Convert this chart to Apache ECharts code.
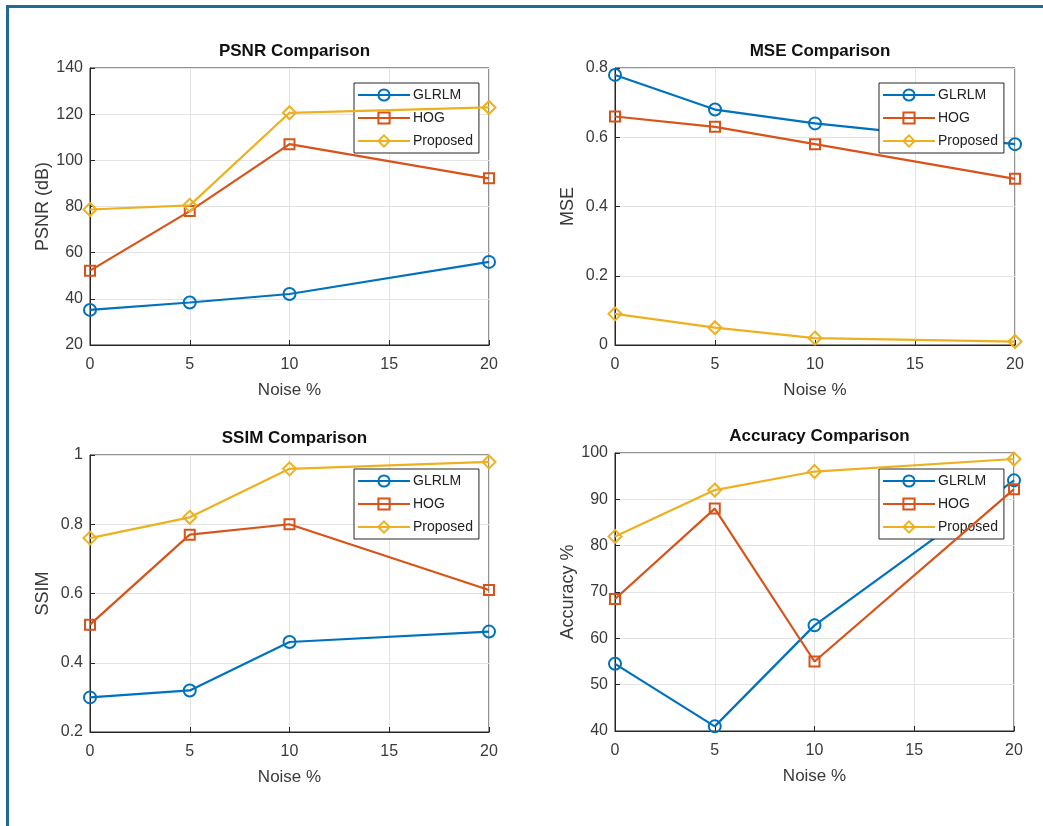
<!DOCTYPE html>
<html>
<head>
<meta charset="utf-8">
<script src="https://cdn.jsdelivr.net/npm/echarts@6/dist/echarts.min.js"></script>
<style>
  html, body { margin: 0; padding: 0; background: #fff; overflow: hidden; }
  #chart { position: absolute; left: 0; top: 0; width: 1043px; height: 826px; }
  #frame { position: absolute; left: 6px; top: 5px; width: 1100px; height: 900px;
           border-left: 3px solid #1f6b96; border-top: 3px solid #1f6b96; pointer-events: none; }
</style>
</head>
<body>
<div id="chart"></div>
<div id="frame"></div>
<script>
var noise = [0, 5, 10, 20];
var seriesNames = ['GLRLM', 'HOG', 'Proposed'];

var psnrGlrlm = [35.2, 38.4, 42.1, 56.0];
var psnrHog = [52.2, 78.0, 107.0, 92.2];
var psnrProposed = [78.7, 80.5, 120.6, 122.9];

var mseGlrlm = [0.78, 0.68, 0.64, 0.58];
var mseHog = [0.66, 0.63, 0.58, 0.48];
var mseProposed = [0.09, 0.05, 0.02, 0.01];

var ssimGlrlm = [0.30, 0.32, 0.46, 0.49];
var ssimHog = [0.51, 0.77, 0.80, 0.61];
var ssimProposed = [0.76, 0.82, 0.96, 0.98];

var accGlrlm = [54.5, 41.0, 62.8, 94.1];
var accHog = [68.5, 88.0, 55.0, 92.2];
var accProposed = [82.0, 92.0, 96.0, 98.7];

var xTicks = [0, 5, 10, 15, 20];
var psnrTicks = [20, 40, 60, 80, 100, 120, 140];
var mseTicks = [0, 0.2, 0.4, 0.6, 0.8];
var ssimTicks = [0.2, 0.4, 0.6, 0.8, 1];
var accTicks = [40, 50, 60, 70, 80, 90, 100];

var titles = ['PSNR Comparison', 'MSE Comparison', 'SSIM Comparison', 'Accuracy Comparison'];
var yNames = ['PSNR (dB)', 'MSE', 'SSIM', 'Accuracy %'];

(function() {
  var font = '"Liberation Sans", Arial, Helvetica, sans-serif';
  var axisInk = '#262626';
  var labelInk = '#3a3a3a';
  var gridInk = '#e3e3e3';
  var colors = ['#0072BD', '#D95319', '#EDB120'];
  var symbols = ['circle', 'rect', 'diamond'];
  var symbolSizes = [12, 10, 13];

  var panels = [
    { data: [psnrGlrlm, psnrHog, psnrProposed], ticks: psnrTicks },
    { data: [mseGlrlm, mseHog, mseProposed], ticks: mseTicks },
    { data: [ssimGlrlm, ssimHog, ssimProposed], ticks: ssimTicks },
    { data: [accGlrlm, accHog, accProposed], ticks: accTicks }
  ];

  // plot boxes, px
  var boxes = [
    { left: 90, top: 68, width: 399, height: 277 },
    { left: 615, top: 68, width: 400, height: 277 },
    { left: 90, top: 455, width: 399, height: 277 },
    { left: 615, top: 453, width: 399, height: 278 }
  ];
  var legendPos = [
    { left: 354, top: 83 },
    { left: 879, top: 83 },
    { left: 354, top: 469 },
    { left: 879, top: 469 }
  ];

  var grid = [], xAxis = [], yAxis = [], series = [], title = [], legend = [];

  panels.forEach(function(p, k) {
    var b = boxes[k];
    grid.push({
      left: b.left, top: b.top, width: b.width, height: b.height,
      show: true, borderColor: axisInk, borderWidth: 1, backgroundColor: '#fff'
    });
    title.push({
      text: titles[k],
      left: b.left + b.width / 2,
      top: b.top - 30,
      textAlign: 'center',
      textStyle: { fontFamily: font, fontSize: 17, fontWeight: 'bold', color: '#111' }
    });
    xAxis.push({
      type: 'value', gridIndex: k,
      min: xTicks[0], max: xTicks[xTicks.length - 1], interval: xTicks[1] - xTicks[0],
      name: 'Noise %', nameLocation: 'middle', nameGap: 37,
      nameTextStyle: { fontFamily: font, fontSize: 17, color: labelInk },
      axisLine: { show: true, lineStyle: { color: axisInk, width: 1 } },
      axisTick: { show: true, inside: true, length: 5, lineStyle: { color: axisInk } },
      axisLabel: { fontFamily: font, fontSize: 16, color: labelInk, margin: 12 },
      splitLine: { show: true, lineStyle: { color: gridInk, width: 1 } }
    });
    var t = p.ticks;
    yAxis.push({
      type: 'value', gridIndex: k,
      min: t[0], max: t[t.length - 1], interval: +(t[1] - t[0]).toFixed(6),
      name: yNames[k], nameLocation: 'middle', nameGap: 38, nameRotate: 90,
      nameTextStyle: { fontFamily: font, fontSize: 18, color: labelInk },
      axisLine: { show: true, lineStyle: { color: axisInk, width: 1 } },
      axisTick: { show: true, inside: true, length: 5, lineStyle: { color: axisInk } },
      axisLabel: {
        fontFamily: font, fontSize: 16, color: labelInk, margin: 7,
        formatter: function(v) { return String(+v.toFixed(4)); }
      },
      splitLine: { show: true, lineStyle: { color: gridInk, width: 1 } }
    });
    p.data.forEach(function(vals, s) {
      series.push({
        name: seriesNames[s],
        type: 'line',
        xAxisIndex: k, yAxisIndex: k,
        data: noise.map(function(x, i) { return [x, vals[i]]; }),
        symbol: symbols[s],
        symbolSize: symbolSizes[s],
        showAllSymbol: true,
        clip: false,
        lineStyle: { color: colors[s], width: 2.2 },
        itemStyle: { color: 'rgba(255,255,255,0)', borderColor: colors[s], borderWidth: 2 },
        emphasis: { disabled: true },
        z: 3 + s
      });
    });
    legend.push({
      data: seriesNames,
      orient: 'vertical',
      left: legendPos[k].left, top: legendPos[k].top,
      itemWidth: 52, itemHeight: 14, itemGap: 9,
      padding: [5, 6, 5, 3],
      backgroundColor: '#fff',
      borderColor: axisInk, borderWidth: 1,
      selectedMode: false,
      textStyle: { fontFamily: font, fontSize: 14, color: '#222', padding: [0, 0, 0, -2] }
    });
  });

  var chart = echarts.init(document.getElementById('chart'), null, { renderer: 'canvas' });
  chart.setOption({
    animation: false,
    backgroundColor: '#fff',
    title: title,
    legend: legend,
    grid: grid,
    xAxis: xAxis,
    yAxis: yAxis,
    series: series
  });
  window.addEventListener('resize', function() { chart.resize(); });
})();
</script>
</body>
</html>
